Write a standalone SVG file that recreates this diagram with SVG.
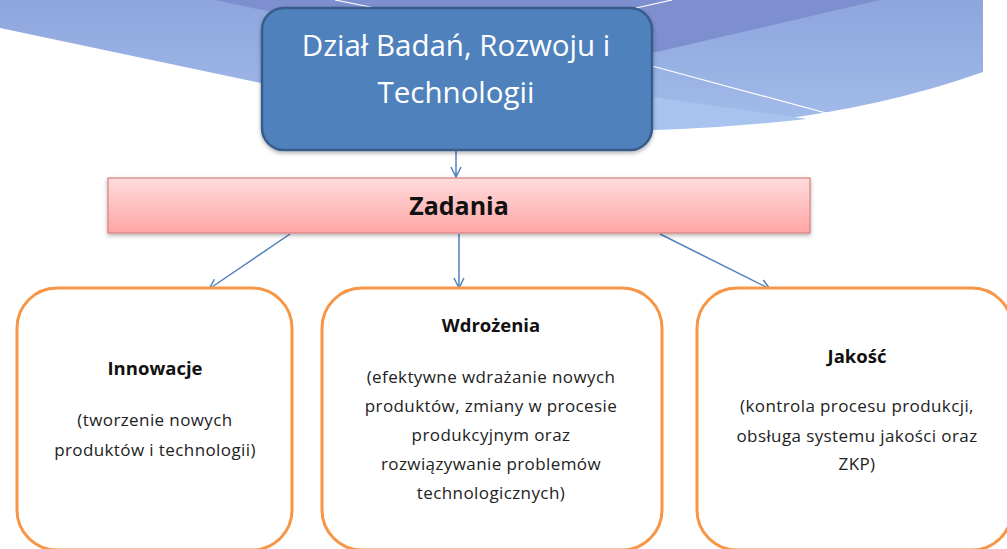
<svg xmlns="http://www.w3.org/2000/svg" width="1007" height="549" viewBox="0 0 1007 549">
<defs>
<style>
.title{font-family:"Open Sans","Liberation Sans",sans-serif;fill:#ffffff;font-size:29.5px;text-anchor:middle}
.head{font-family:"Open Sans","Liberation Sans",sans-serif;fill:#111111;font-size:18.5px;font-weight:bold;text-anchor:middle}
.body{font-family:"Open Sans","Liberation Sans",sans-serif;fill:#222222;font-size:17px;letter-spacing:0.4px;text-anchor:middle}
.zad{font-family:"Open Sans","Liberation Sans",sans-serif;fill:#111111;font-size:25px;font-weight:bold;text-anchor:middle}
.card{fill:#ffffff;stroke:#f79646;stroke-width:3}
.conn{stroke:#4f81bd;stroke-width:1.5;fill:none;marker-end:url(#arr)}
</style>
<marker id="arr" viewBox="0 0 12 12" refX="11" refY="6" markerWidth="12" markerHeight="12" markerUnits="userSpaceOnUse" orient="auto">
<path d="M1,1 L11,6 L1,11" fill="none" stroke="#4f81bd" stroke-width="1.5"/>
</marker>
<linearGradient id="swoosh" x1="0" y1="0" x2="0" y2="1">
<stop offset="0" stop-color="#8ea5dd"/>
<stop offset="1" stop-color="#a3bdea"/>
</linearGradient>
<linearGradient id="pink" x1="0" y1="0" x2="0" y2="1">
<stop offset="0" stop-color="#ffdcdc"/>
<stop offset="1" stop-color="#ffa5a5"/>
</linearGradient>
<filter id="sh" x="-10%" y="-10%" width="120%" height="130%">
<feDropShadow dx="0" dy="2" stdDeviation="2" flood-color="#000" flood-opacity="0.3"/>
</filter>
</defs>

<g id="background">
<path d="M0,0 L983,0 L983,72 Q820,130 600,131 Q420,120 261,83 L0,28 Z" fill="url(#swoosh)"/>
<path d="M215,0 L262,10 L652,53 L880,0 Z" fill="#7e8fcf"/>
<path d="M600,90 L652,97 L807,119 Q700,131 600,131 Z" fill="#a8c4ee"/>
<path d="M335,0 L380,9" stroke="#ffffff" stroke-width="1.2"/>
<path d="M636,8 L672,0" stroke="#ffffff" stroke-width="1.2"/>
<path d="M652,66 L837,116" stroke="#ffffff" stroke-width="1.2"/>
</g>

<g id="connectors">
<line class="conn" x1="456" y1="151" x2="456" y2="177"/>
<line class="conn" x1="290" y1="234" x2="209" y2="289"/>
<line class="conn" x1="459" y1="234" x2="459" y2="288"/>
<line class="conn" x1="660" y1="234" x2="770" y2="289"/>
</g>

<g id="node-dzial">
<rect x="262" y="8" width="390" height="142" rx="22" ry="22" fill="#4f81bd" stroke="#385d8a" stroke-width="2.5" filter="url(#sh)"/>
<text class="title" x="456" y="56">Dział Badań, Rozwoju i</text>
<text class="title" x="456" y="103">Technologii</text>
</g>

<g id="node-zadania">
<rect x="108" y="178" width="702" height="55" fill="url(#pink)" stroke="#d77f7f" stroke-width="1.2" filter="url(#sh)"/>
<text class="zad" x="459" y="215">Zadania</text>
</g>

<g id="node-innowacje">
<rect class="card" x="17" y="288" width="275" height="262" rx="40" ry="40"/>
<text class="head" x="155" y="375">Innowacje</text>
<text class="body" x="155" y="426">(tworzenie nowych</text>
<text class="body" x="155" y="456">produktów i technologii)</text>
</g>

<g id="node-wdrozenia">
<rect class="card" x="322" y="288" width="340" height="262" rx="40" ry="40"/>
<text class="head" x="491" y="332">Wdrożenia</text>
<text class="body" x="491" y="383">(efektywne wdrażanie nowych</text>
<text class="body" x="491" y="412">produktów, zmiany w procesie</text>
<text class="body" x="491" y="441">produkcyjnym oraz</text>
<text class="body" x="491" y="470">rozwiązywanie problemów</text>
<text class="body" x="491" y="499">technologicznych)</text>
</g>

<g id="node-jakosc">
<rect class="card" x="697" y="288" width="315" height="262" rx="40" ry="40"/>
<text class="head" x="857" y="363">Jakość</text>
<text class="body" x="857" y="412">(kontrola procesu produkcji,</text>
<text class="body" x="857" y="442">obsługa systemu jakości oraz</text>
<text class="body" x="857" y="470">ZKP)</text>
</g>
</svg>
